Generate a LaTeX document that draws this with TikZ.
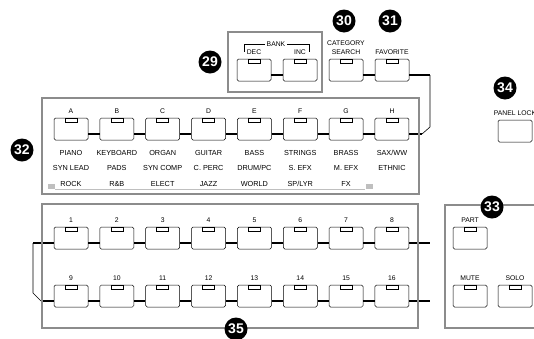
\documentclass[tikz,border=0pt]{standalone}
\usepackage{fontspec}
\setmainfont{Liberation Sans}
\usetikzlibrary{positioning}
\definecolor{grismarco}{gray}{0.55}
\definecolor{grisbarra}{gray}{0.75}
\tikzset{
  boton/.style={rectangle, rounded corners=1.5pt, draw=black, line width=0.5pt, fill=white, minimum width=34pt, minimum height=22pt, inner sep=0pt},
  led/.style={rectangle, draw=black, line width=0.5pt, fill=white, minimum width=12pt, minimum height=4pt, inner sep=0pt},
  enlace/.style={line width=2.2pt},
  fino/.style={line width=0.6pt}
}

\begin{document}
\begin{tikzpicture}[x=1pt, y=-1pt,
        etiq/.style={font=\fontsize{6.8}{7.5}\selectfont, inner sep=0pt, text height=4.9pt, text depth=0pt},
        cat/.style={font=\fontsize{7.3}{8}\selectfont, inner sep=0pt, text height=5.2pt, text depth=0pt},
        num/.style={circle, fill=black, minimum size=23pt, inner sep=0pt, text=white, font=\fontsize{14}{14}\selectfont\bfseries},
        marco/.style={draw=grismarco, line width=2pt},
        barra/.style={rectangle, fill=grisbarra, minimum width=7pt, minimum height=5pt, inner sep=0pt}]
        \useasboundingbox (0,0) rectangle (534,338);

        % Fila de categorias A-H
        \foreach \l [count=\i] in {A,B,C,D,E,F,G,H} {
            \node (bc\i) [boton] at (71+45.85*\i-45.85, 129) {};
            \node (lbc\i) [led, below=0pt of bc\i.north] {};
            \node (tbc\i) [etiq, above=4.3pt of bc\i] {\l};
        }
        \foreach \i [evaluate=\i as \j using int(\i+1)] in {1,...,7}
            \draw [enlace] ([yshift=-5pt]bc\i.east) -- ([yshift=-5pt]bc\j.west);

        % Nombres de categorias
        \foreach \t [count=\i] in {PIANO,KEYBOARD,ORGAN,GUITAR,BASS,STRINGS,BRASS,SAX/WW}
            \node (ta\i) [cat, below=9.8pt of bc\i] {\t};
        \foreach \t [count=\i] in {SYN LEAD,PADS,SYN COMP,C. PERC,DRUM/PC,S. EFX,M. EFX,ETHNIC}
            \node (tb\i) [cat, below=9.8pt of ta\i] {\t};
        \foreach \t [count=\i] in {ROCK,R\&B,ELECT,JAZZ,WORLD,SP/LYR,FX}
            \node (tc\i) [cat, below=9.8pt of tb\i] {\t};
        \node (bi) [barra] at (51.5,186.5) {};
        \node (bd) [barra] at (369,186.5) {};
        \draw [draw=grisbarra, line width=0.8pt] (bi.south east) -- (bd.south west);

        % Filas de numeros 1-16
        \foreach \i in {1,...,8} {
            \node (n\i) [boton] at (71+45.85*\i-45.85, 238) {};
            \node (ln\i) [led, below=0pt of n\i.north] {};
            \node (tn\i) [etiq, above=4.3pt of n\i] {\i};
        }
        \foreach \i in {9,...,16} {
            \node (n\i) [boton] at (71+45.85*\i-412.65, 296) {};
            \node (ln\i) [led, below=0pt of n\i.north] {};
            \node (tn\i) [etiq, above=4.3pt of n\i] {\i};
        }
        \foreach \i [evaluate=\i as \j using int(\i+1)] in {1,...,7,9,10,...,15}
            \draw [enlace] ([yshift=-5pt]n\i.east) -- ([yshift=-5pt]n\j.west);

        % Retorno entre filas
        \coordinate (izq1) at (33,243);
        \coordinate (izq2) at (33,293);
        \coordinate (izq3) at (41,301);
        \coordinate (der1) at (430,243);
        \coordinate (der2) at (430,301);
        \draw [enlace] (izq1) -- ([yshift=-5pt]n1.west);
        \draw [fino] (izq1) -- (izq2) -- (izq3);
        \draw [enlace] (izq3) -- ([yshift=-5pt]n9.west);
        \draw [enlace] ([yshift=-5pt]n8.east) -- (der1);
        \draw [enlace] ([yshift=-5pt]n16.east) -- (der2);

        % BANK DEC / INC
        \node (dec) [boton] at (254,70) {};
        \node (ldec) [led, below=0pt of dec.north] {};
        \node (tdec) [etiq, above=4.3pt of dec] {DEC};
        \node (inc) [boton] at (300,70) {};
        \node (linc) [led, below=0pt of inc.north] {};
        \node (tinc) [etiq, above=4.3pt of inc] {INC};
        \node (bank) [etiq] at (276,44) {BANK};
        \draw [fino] ([xshift=-2pt]bank.west) -| ++(-20,8);
        \draw [fino] ([xshift=2pt]bank.east) -| ++(22,8);
        \draw [enlace] ([yshift=-5pt]dec.east) -- ([yshift=-5pt]inc.west);

        % CATEGORY SEARCH / FAVORITE
        \node (cs) [boton] at (346,70) {};
        \node (lcs) [led, below=0pt of cs.north] {};
        \node (tcs2) [etiq, above=4.3pt of cs] {SEARCH};
        \node (tcs1) [etiq, above=3pt of tcs2] {CATEGORY};
        \node (fav) [boton] at (392,70) {};
        \node (lfav) [led, below=0pt of fav.north] {};
        \node (tfav) [etiq, above=4.3pt of fav] {FAVORITE};
        \draw [enlace] ([yshift=-5pt]cs.east) -- ([yshift=-5pt]fav.west);
        \coordinate (r1) at (430,75);
        \coordinate (r2) at (430,127);
        \coordinate (r3) at (422,134);
        \draw [enlace] ([yshift=-5pt]fav.east) -- (r1);
        \draw [fino] (r1) -- (r2) -- (r3);
        \draw [enlace] (r3) -- ([yshift=-5pt]bc8.east);

        % Panel derecho
        \node (lock) [boton] at (515,131) {};
        \node (tlock) [etiq, above=4.3pt of lock] {PANEL LOCK};
        \node (part) [boton] at (470,238) {};
        \node (lpart) [led, below=0pt of part.north] {};
        \node (tpart) [etiq, above=4.3pt of part] {PART};
        \node (mute) [boton] at (470,296) {};
        \node (lmute) [led, below=0pt of mute.north] {};
        \node (tmute) [etiq, above=4.3pt of mute] {MUTE};
        \node (solo) [boton] at (515,296) {};
        \node (lsolo) [led, below=0pt of solo.north] {};
        \node (tsolo) [etiq, above=4.3pt of solo] {SOLO};

        % Marcos grises
        \draw [marco] (228,32) rectangle (322,92);
        \draw [marco] (42,98) rectangle (419,194);
        \draw [marco] (42,204) rectangle (418,328);
        \draw [marco] (536,205) -- (445,205) -- (445,328) -- (536,328);

        % Numeros de referencia
        \node (c29) [num] at (210,62) {29};
        \node (c30) [num] at (344,21) {30};
        \node (c31) [num] at (390,21) {31};
        \node (c32) [num] at (22,150) {32};
        \node (c33) [num] at (492,207) {33};
        \node (c34) [num] at (505,88) {34};
        \node (c35) [num] at (236,329) {35};

\end{tikzpicture}
\end{document}
